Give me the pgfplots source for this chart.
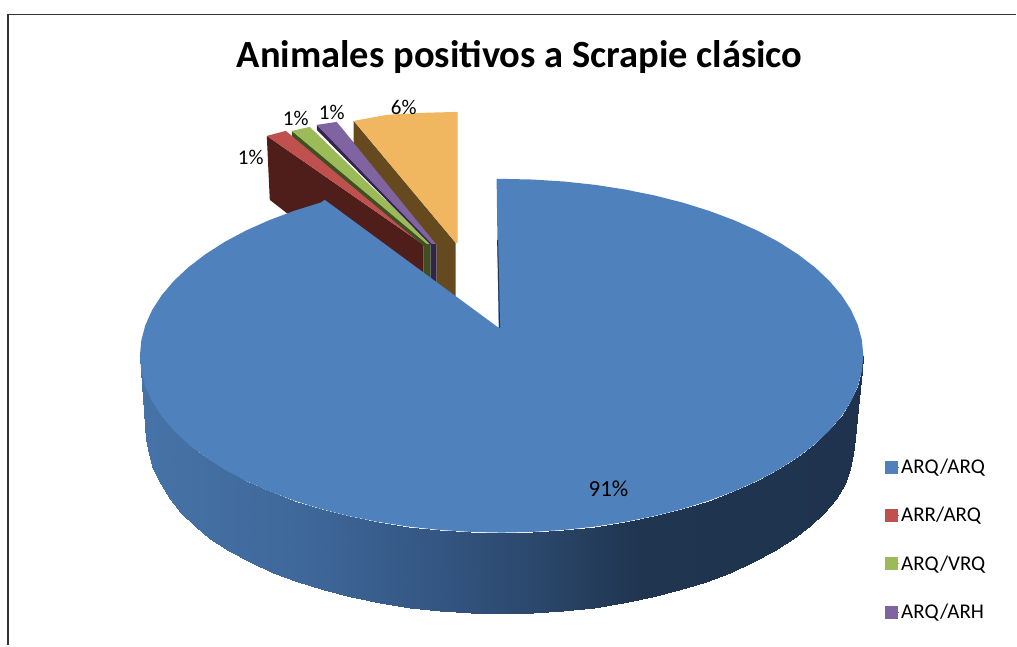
\documentclass[border=0pt]{standalone}
\usepackage{fontspec}
\setmainfont{Carlito}
\usepackage{pgfplots}
\pgfplotsset{compat=1.18}

\definecolor{sliceblue}{HTML}{4F81BD}
\definecolor{slicered}{HTML}{C0504D}
\definecolor{slicegreen}{HTML}{9BBB59}
\definecolor{slicepurple}{HTML}{8064A2}
\definecolor{sliceorange}{HTML}{F0B660}
\definecolor{wallred}{HTML}{4F1D1A}
\definecolor{wallgreen}{HTML}{3F4F22}
\definecolor{wallpurple}{HTML}{33254A}
\definecolor{wallorange}{HTML}{65491F}

\begin{document}
\begin{tikzpicture}
\begin{axis}[
  scale only axis, width=1017pt, height=646pt,
  xmin=0, xmax=1017, ymin=0, ymax=646,
  y dir=reverse, axis lines=none, clip=false,
  colormap={wall}{rgb255(140pt)=(70,115,168) rgb255(300pt)=(63,104,154)
    rgb255(450pt)=(50,84,128) rgb255(550pt)=(42,69,104)
    rgb255(640pt)=(31,53,80) rgb255(864pt)=(31,51,78)},
  legend style={at={(axis cs:885.5,457.5)}, anchor=north west, draw=none, fill=none,
    font=\fontsize{21}{25}\selectfont, row sep=28.2pt, inner sep=0pt, outer sep=0pt},
  legend cell align=left,
  legend image code/.code={\fill[#1] (0pt,-6pt) rectangle (12pt,6pt); \path (0pt,0pt) -- (14pt,0pt);},
  legend columns=1,
]
\path (axis cs:0,0) rectangle (axis cs:1017,646);

\addlegendimage{sliceblue}
\addlegendentry{ARQ/ARQ}
\addlegendimage{slicered}
\addlegendentry{ARR/ARQ}
\addlegendimage{slicegreen}
\addlegendentry{ARQ/VRQ}
\addlegendimage{slicepurple}
\addlegendentry{ARQ/ARH}

% frame
\addplot[black!80, line width=1.6pt, forget plot] coordinates {(8,646) (8,14.5) (1017,14.5)};

% exploded slices, back to front
\addplot[fill=wallred, draw=none, forget plot] coordinates {(267,136) (270,200) (288,214) (424,290) (424,245)};
\addplot[fill=slicered, draw=none, forget plot] coordinates {(267,136) (286,131) (426,245) (424,245)};
\addplot[fill=wallgreen, draw=none, forget plot] coordinates {(292,131) (292,136) (424,246) (424,276) (431,279) (431,244)};
\addplot[fill=slicegreen, draw=none, forget plot] coordinates {(292,131) (310,127) (431,244) (427,244)};
\addplot[fill=wallpurple, draw=none, forget plot] coordinates {(317,125) (317,130) (431,245) (431,279) (437,284) (437,245)};
\addplot[fill=slicepurple, draw=none, forget plot] coordinates {(317,125) (337,122) (437,244) (432,244)};
\addplot[fill=wallorange, draw=none, forget plot] coordinates {(354,121) (354,143) (437,245) (437,284) (456,298) (456,243)};
\addplot[fill=sliceorange, draw=none, forget plot] coordinates {(354,121) (387,115) (420,113) (458,112) (458,243) (456,243)};

% side wall of the big slice
\addplot[surf, shader=interp, mesh/rows=2, mesh/ordering=x varies, point meta=x,
  point meta min=140, point meta max=864, forget plot] coordinates {
(140.0,356.0) (141.4,371.4) (145.5,386.7) (152.3,401.8) (161.8,416.5) (173.9,430.8) (188.5,444.5)
(205.5,457.5) (224.7,469.8) (246.0,481.2) (269.3,491.6) (294.4,501.0) (321.0,509.3) (349.0,516.4)
(378.2,522.3) (408.3,527.0) (439.1,530.3) (470.4,532.3) (502.0,533.0) (533.6,532.3) (564.9,530.3)
(595.7,527.0) (625.8,522.3) (655.0,516.4) (683.0,509.3) (709.6,501.0) (734.7,491.6) (758.0,481.2)
(779.3,469.8) (798.5,457.5) (815.5,444.5) (830.1,430.8) (842.2,416.5) (851.7,401.8) (858.5,386.7)
(862.6,371.4) (864.0,356.0)

(146.0,439.0) (149.5,454.3) (153.5,469.4) (161.0,484.3) (170.0,498.9) (181.0,513.0) (195.0,526.5)
(210.4,539.4) (229.3,551.5) (250.3,562.7) (273.2,573.1) (297.8,582.4) (324.0,590.6) (351.5,597.6)
(380.2,603.4) (409.9,608.0) (440.2,611.3) (471.0,613.3) (502.0,614.0) (533.0,613.3) (563.8,611.3)
(594.1,608.0) (623.8,603.4) (652.5,597.6) (680.0,590.6) (706.2,582.4) (730.8,573.1) (753.7,562.7)
(774.7,551.5) (793.6,539.4) (810.3,526.5) (824.6,513.0) (836.5,498.9) (845.9,484.3) (850.5,469.4)
(853.5,454.3) (855.5,439.0)
};

% top of the big slice
\addplot[fill=sliceblue, draw=none, forget plot] coordinates {
(499,328) (497,179) (502,179)
(533.6,179.7) (564.9,181.7) (595.7,185.0) (625.8,189.7) (655.0,195.6) (683.0,202.7) (709.6,211.0)
(734.7,220.4) (758.0,230.8) (779.3,242.2) (798.5,254.5) (815.5,267.5) (830.1,281.2) (842.2,295.5)
(851.7,310.2) (858.5,325.3) (862.6,340.6) (864.0,356.0)
(862.6,371.4) (858.5,386.7) (851.7,401.8) (842.2,416.5) (830.1,430.8) (815.5,444.5) (798.5,457.5)
(779.3,469.8) (758.0,481.2) (734.7,491.6) (709.6,501.0) (683.0,509.3) (655.0,516.4) (625.8,522.3)
(595.7,527.0) (564.9,530.3) (533.6,532.3) (502.0,533.0)
(470.4,532.3) (439.1,530.3) (408.3,527.0) (378.2,522.3) (349.0,516.4) (321.0,509.3) (294.4,501.0)
(269.3,491.6) (246.0,481.2) (224.7,469.8) (205.5,457.5) (188.5,444.5) (173.9,430.8) (161.8,416.5)
(152.3,401.8) (145.5,386.7) (141.4,371.4) (140.0,356.0)
(141.4,340.6) (145.5,325.3) (152.3,310.2) (161.8,295.5) (173.9,281.2) (188.5,267.5) (205.5,254.5)
(224.7,242.2) (246.0,230.8) (269.3,220.4) (294.4,211.0) (321.0,202.7) (325,200)
};
\addplot[draw=black!20!sliceblue!50!black, line width=1pt, forget plot] coordinates {(498,240) (500,328)};

% labels
\node[font=\fontsize{38.5}{42}\selectfont\bfseries] at (axis cs:520,57) {Animales positivos a Scrapie clásico};
\node[font=\fontsize{21}{24}\selectfont] at (axis cs:251,158) {1\%};
\node[font=\fontsize{21}{24}\selectfont] at (axis cs:296,119) {1\%};
\node[font=\fontsize{21}{24}\selectfont] at (axis cs:332,113) {1\%};
\node[font=\fontsize{21}{24}\selectfont] at (axis cs:404,108) {6\%};
\node[font=\fontsize{23}{26}\selectfont] at (axis cs:609,489) {91\%};
\end{axis}
\end{tikzpicture}
\end{document}
